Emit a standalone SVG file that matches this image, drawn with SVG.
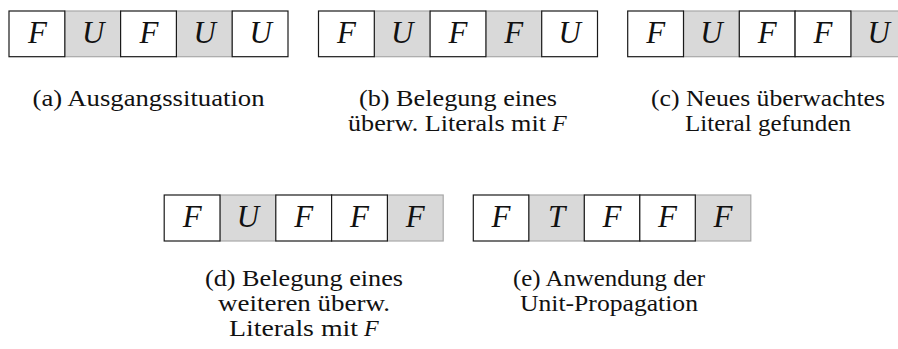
<svg xmlns="http://www.w3.org/2000/svg" width="898" height="349" viewBox="0 0 898 349">
  <style>
    text { font-family: "Liberation Serif", "Times New Roman", serif; fill: #111; }
    .w { fill: #ffffff; stroke: #1a1a1a; stroke-width: 1.2; }
    .g { fill: #d9d9d9; stroke: #a8a8a8; stroke-width: 1.2; }
    .v { font-style: italic; font-size: 31px; text-anchor: middle; }
    .cap { font-size: 24px; text-anchor: middle; }
    .end { font-size: 24px; text-anchor: end; }
    .var { font-size: 24px; font-style: italic; }
  </style>

  <!-- (a) starting situation -->
  <g id="state-a">
    <rect class="g" x="64.8" y="11" width="55.8" height="45.7"/>
    <rect class="g" x="176.4" y="11" width="55.8" height="45.7"/>
    <rect class="w" x="9" y="11" width="55.8" height="45.7"/>
    <rect class="w" x="120.6" y="11" width="55.8" height="45.7"/>
    <rect class="w" x="232.2" y="11" width="55.8" height="45.7"/>
    <text class="v" x="37.4" y="43">F</text>
    <text class="v" x="93.2" y="43">U</text>
    <text class="v" x="149" y="43">F</text>
    <text class="v" x="204.8" y="43">U</text>
    <text class="v" x="260.6" y="43">U</text>
    <text class="cap" x="148.5" y="106" textLength="232" lengthAdjust="spacingAndGlyphs">(a) Ausgangssituation</text>
  </g>

  <!-- (b) watched literal set to F -->
  <g id="state-b">
    <rect class="g" x="374.3" y="11" width="55.8" height="45.7"/>
    <rect class="g" x="485.9" y="11" width="55.8" height="45.7"/>
    <rect class="w" x="318.5" y="11" width="55.8" height="45.7"/>
    <rect class="w" x="430.1" y="11" width="55.8" height="45.7"/>
    <rect class="w" x="541.7" y="11" width="55.8" height="45.7"/>
    <text class="v" x="346.4" y="43">F</text>
    <text class="v" x="402.2" y="43">U</text>
    <text class="v" x="458" y="43">F</text>
    <text class="v" x="513.8" y="43">F</text>
    <text class="v" x="569.6" y="43">U</text>
    <text class="cap" x="458" y="106" textLength="198" lengthAdjust="spacingAndGlyphs">(b) Belegung eines</text>
    <text class="end" x="546" y="131" textLength="198" lengthAdjust="spacingAndGlyphs">überw. Literals mit</text>
    <text class="var" x="552" y="131">F</text>
  </g>

  <!-- (c) new watched literal found -->
  <g id="state-c">
    <rect class="g" x="683.5" y="11" width="55.8" height="45.7"/>
    <rect class="g" x="850.9" y="11" width="55.8" height="45.7"/>
    <rect class="w" x="627.7" y="11" width="55.8" height="45.7"/>
    <rect class="w" x="739.3" y="11" width="55.8" height="45.7"/>
    <rect class="w" x="795.1" y="11" width="55.8" height="45.7"/>
    <text class="v" x="655.6" y="43">F</text>
    <text class="v" x="711.4" y="43">U</text>
    <text class="v" x="767.2" y="43">F</text>
    <text class="v" x="823" y="43">F</text>
    <text class="v" x="878.8" y="43">U</text>
    <text class="cap" x="768" y="106" textLength="234" lengthAdjust="spacingAndGlyphs">(c) Neues überwachtes</text>
    <text class="cap" x="768" y="131" textLength="166" lengthAdjust="spacingAndGlyphs">Literal gefunden</text>
  </g>

  <!-- (d) further watched literal set to F -->
  <g id="state-d">
    <rect class="g" x="220" y="195" width="55.8" height="46"/>
    <rect class="g" x="387.4" y="195" width="55.8" height="46"/>
    <rect class="w" x="164.2" y="195" width="55.8" height="46"/>
    <rect class="w" x="275.8" y="195" width="55.8" height="46"/>
    <rect class="w" x="331.6" y="195" width="55.8" height="46"/>
    <text class="v" x="192.1" y="227">F</text>
    <text class="v" x="247.9" y="227">U</text>
    <text class="v" x="303.7" y="227">F</text>
    <text class="v" x="359.5" y="227">F</text>
    <text class="v" x="415.3" y="227">F</text>
    <text class="cap" x="304" y="286" textLength="198" lengthAdjust="spacingAndGlyphs">(d) Belegung eines</text>
    <text class="cap" x="304" y="311" textLength="172" lengthAdjust="spacingAndGlyphs">weiteren überw.</text>
    <text class="end" x="358" y="336" textLength="129" lengthAdjust="spacingAndGlyphs">Literals mit</text>
    <text class="var" x="364" y="336">F</text>
  </g>

  <!-- (e) unit propagation applied -->
  <g id="state-e">
    <rect class="g" x="528.8" y="195" width="55.5" height="46"/>
    <rect class="g" x="695.3" y="195" width="55.5" height="46"/>
    <rect class="w" x="473.3" y="195" width="55.5" height="46"/>
    <rect class="w" x="584.3" y="195" width="55.5" height="46"/>
    <rect class="w" x="639.8" y="195" width="55.5" height="46"/>
    <text class="v" x="501" y="227">F</text>
    <text class="v" x="556.5" y="227">T</text>
    <text class="v" x="612" y="227">F</text>
    <text class="v" x="667.5" y="227">F</text>
    <text class="v" x="723" y="227">F</text>
    <text class="cap" x="609" y="286" textLength="192" lengthAdjust="spacingAndGlyphs">(e) Anwendung der</text>
    <text class="cap" x="609" y="311" textLength="178" lengthAdjust="spacingAndGlyphs">Unit-Propagation</text>
  </g>
</svg>
